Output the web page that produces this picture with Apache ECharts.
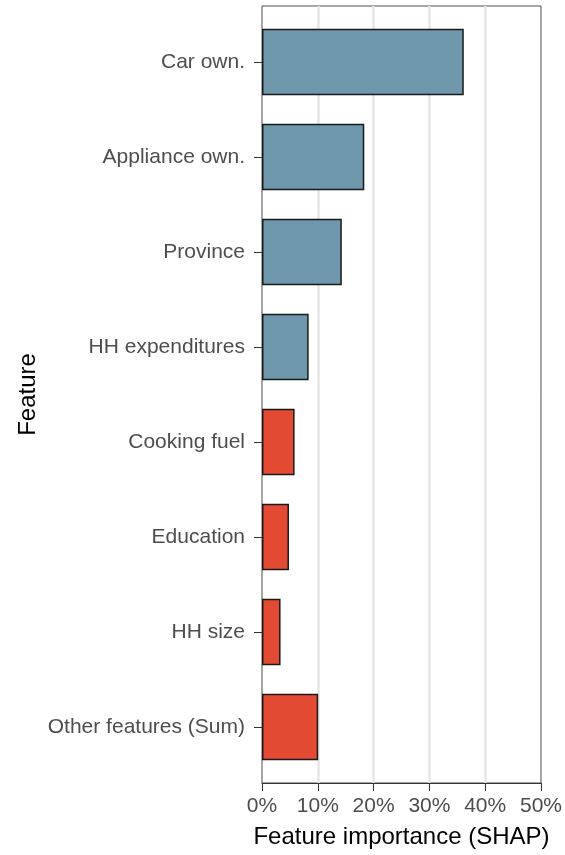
<!DOCTYPE html>
<html>
<head>
<meta charset="utf-8">
<style>
  html, body { margin: 0; padding: 0; background: #ffffff; }
  #chart { width: 565px; height: 855px; }
</style>
<script src="https://cdn.jsdelivr.net/npm/echarts@6/dist/echarts.min.js"></script>
</head>
<body>
<div id="chart"></div>
<script>
// Features, top to bottom
const categories = [
  'Car own.', 'Appliance own.', 'Province', 'HH expenditures',
  'Cooking fuel', 'Education', 'HH size', 'Other features (Sum)'
];
// Mean |SHAP| share, percent
const shapValues = [35.9, 18.2, 14.2, 8.3, 5.8, 4.8, 3.3, 10.0];
// Colour group of each feature
const featureGroup = ['main', 'main', 'main', 'main', 'minor', 'minor', 'minor', 'minor'];
// X axis ticks, percent
const xTicks = [0, 10, 20, 30, 40, 50];

const groupColors = { main: '#6f98ad', minor: '#e34a33' };
const FONT = '"Liberation Sans", Arial, sans-serif';

// Panel spans the full axis range; the bar grid is inset so the
// outer bands get a little more room than a half category.
const panel = { left: 262, right: 22, top: 6, bottom: 72 };
const band = (855 - panel.top - panel.bottom) / (categories.length + 1.2);
const inset = 0.1 * band;

const chart = echarts.init(document.getElementById('chart'), null, { renderer: 'canvas' });

chart.setOption({
  backgroundColor: '#ffffff',
  animation: false,
  textStyle: { fontFamily: FONT },
  grid: [
    {
      left: panel.left, right: panel.right, top: panel.top, bottom: panel.bottom,
      show: true, borderColor: '#4d4d4d', borderWidth: 1, backgroundColor: 'transparent'
    },
    {
      left: panel.left, right: panel.right,
      top: panel.top + inset, bottom: panel.bottom + inset
    }
  ],
  xAxis: [
    {
      gridIndex: 0, type: 'value',
      min: xTicks[0], max: xTicks[xTicks.length - 1], interval: xTicks[1] - xTicks[0],
      axisLine: { show: true, lineStyle: { color: '#333333', width: 1 } },
      axisTick: { show: true, length: 8, lineStyle: { color: '#333333' } },
      axisLabel: {
        formatter: '{value}%', fontSize: 21, color: '#4d4d4d', margin: 13, fontFamily: FONT
      },
      splitLine: {
        show: true, showMinLine: false, showMaxLine: false,
        lineStyle: { color: '#e6e6e6', width: 2.5 }
      },
      name: 'Feature importance (SHAP)',
      nameLocation: 'middle', nameGap: 42,
      nameTextStyle: { fontSize: 24, color: '#000000', fontFamily: FONT }
    },
    {
      gridIndex: 1, type: 'value',
      min: xTicks[0], max: xTicks[xTicks.length - 1],
      show: false, splitLine: { show: false }
    }
  ],
  yAxis: [
    {
      gridIndex: 0, type: 'value', min: 0, max: 1, show: false,
      splitLine: { show: false }
    },
    {
      gridIndex: 1, type: 'category', inverse: true, data: categories,
      axisLine: { show: false },
      axisTick: { show: true, alignWithLabel: true, length: 8, lineStyle: { color: '#333333' } },
      axisLabel: { fontSize: 21, color: '#4d4d4d', margin: 17, fontFamily: FONT },
      name: 'Feature',
      nameLocation: 'middle', nameRotate: 90, nameGap: 222,
      nameTextStyle: { fontSize: 24, color: '#000000', fontFamily: FONT }
    }
  ],
  series: [
    {
      type: 'bar',
      xAxisIndex: 1, yAxisIndex: 1,
      barWidth: '70%',
      data: shapValues.map((v, i) => ({
        value: v,
        itemStyle: {
          color: groupColors[featureGroup[i]],
          borderColor: '#1a1a1a',
          borderWidth: 1.5
        }
      })),
      z: 3
    }
  ]
});
</script>
</body>
</html>
